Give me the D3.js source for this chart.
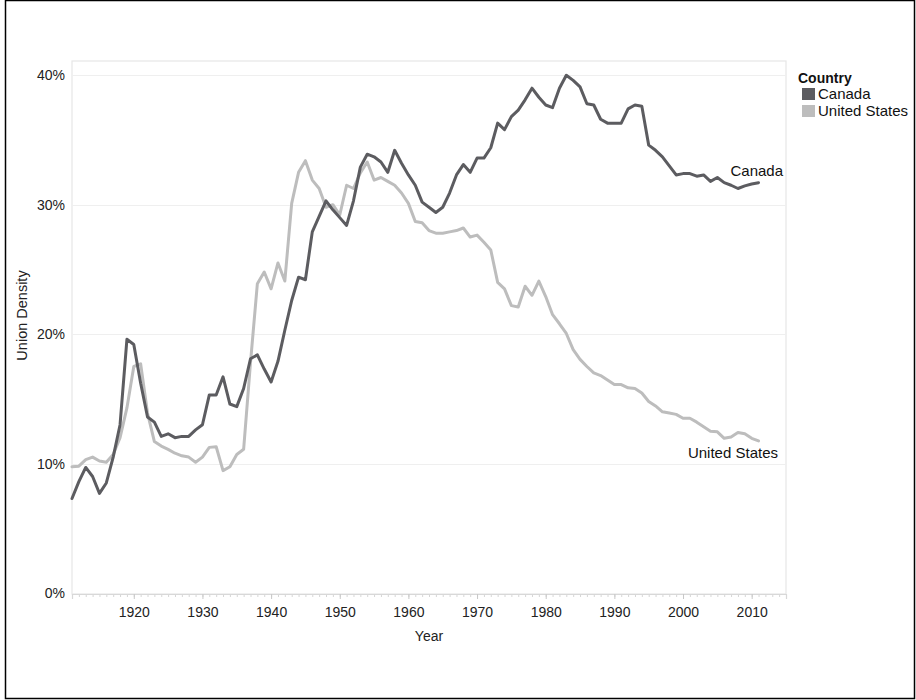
<!DOCTYPE html>
<html>
<head>
<meta charset="utf-8">
<script src="https://cdn.jsdelivr.net/npm/d3@7"></script>
<style>
  body { margin: 0; background: #fff; }
  svg { display: block; font-family: Arial, "Liberation Sans", sans-serif; }
</style>
</head>
<body>
<svg id="chart" width="916" height="700"></svg>
<script>
const years = d3.range(1911, 2012);
const canada = [
  7.3, 8.6, 9.7, 9.0, 7.7, 8.5, 10.5, 13.0, 19.6,
  19.2, 16.2, 13.6, 13.2, 12.1, 12.3, 12.0, 12.1, 12.1, 12.6,
  13.0, 15.3, 15.3, 16.7, 14.6, 14.4, 15.8, 18.1, 18.4, 17.3,
  16.3, 17.9, 20.3, 22.6, 24.4, 24.2, 27.9, 29.1, 30.3, 29.6,
  29.0, 28.4, 30.3, 32.9, 33.9, 33.7, 33.3, 32.5, 34.2, 33.2,
  32.3, 31.5, 30.2, 29.8, 29.4, 29.8, 30.9, 32.3, 33.1, 32.5,
  33.6, 33.6, 34.4, 36.3, 35.8, 36.8, 37.3, 38.1, 39.0, 38.3,
  37.7, 37.5, 39.0, 40.0, 39.6, 39.1, 37.8, 37.7, 36.6, 36.3,
  36.3, 36.3, 37.4, 37.7, 37.6, 34.6, 34.2, 33.7, 33.0, 32.3,
  32.4, 32.4, 32.2, 32.3, 31.8, 32.1, 31.7, 31.5, 31.25, 31.45,
  31.6, 31.7
];
const unitedStates = [
  9.75, 9.8, 10.3, 10.5, 10.2, 10.1, 10.7, 12.0, 14.3,
  17.5, 17.7, 13.9, 11.7, 11.35, 11.1, 10.8, 10.6, 10.5, 10.1,
  10.5, 11.25, 11.3, 9.45, 9.75, 10.7, 11.1, 17.8, 23.9, 24.8,
  23.5, 25.5, 24.1, 30.1, 32.5, 33.4, 31.9, 31.25, 29.8, 30.0,
  29.2, 31.5, 31.25, 32.45, 33.3, 31.9, 32.1, 31.8, 31.5, 30.9,
  30.1, 28.7, 28.6, 28.0, 27.8, 27.8, 27.9, 28.0, 28.2, 27.5,
  27.65, 27.1, 26.5, 24.0, 23.5, 22.2, 22.1, 23.7, 23.0, 24.1,
  22.9, 21.5, 20.8, 20.05, 18.8, 18.05, 17.5, 17.0, 16.8, 16.45,
  16.1, 16.1, 15.85, 15.8, 15.45, 14.8, 14.45, 14.0, 13.9, 13.8,
  13.5, 13.5, 13.2, 12.85, 12.5, 12.45, 11.95, 12.05, 12.4, 12.3,
  11.95, 11.75
];
const countries = ["Canada", "United States"];
const yTicks = [0, 10, 20, 30, 40];
const xTicks = [1920, 1930, 1940, 1950, 1960, 1970, 1980, 1990, 2000, 2010];

const colors = { "Canada": "#5c5c60", "United States": "#bdbdbd" };
const seriesData = { "Canada": canada, "United States": unitedStates };

const svg = d3.select("#chart");
const L = 72, R = 786, T = 61, B = 594;
const FONT = "Arial, 'Liberation Sans', sans-serif";

const x = d3.scaleLinear().domain([1911, 2015]).range([L, R]);
const y = d3.scaleLinear().domain([0, 41.1]).range([593, T]);

// outer frame
svg.append("rect").attr("x", 5.5).attr("y", 0.5).attr("width", 909).attr("height", 698)
  .attr("fill", "none").attr("stroke", "#000").attr("stroke-width", 1.5);

// plot border
svg.append("rect").attr("x", L).attr("y", T).attr("width", R - L).attr("height", B - T)
  .attr("fill", "none").attr("stroke", "#e6e6e6").attr("stroke-width", 1.2);

// gridlines
svg.append("g").selectAll("line").data(yTicks.filter(d => d > 0)).join("line")
  .attr("x1", L).attr("x2", R).attr("y1", d => Math.round(y(d)) + 0.5).attr("y2", d => Math.round(y(d)) + 0.5)
  .attr("stroke", "#efefef").attr("stroke-width", 1);

// y axis labels
const yAxis = d3.axisLeft(y).tickValues(yTicks).tickFormat(d => d + "%").tickSize(0).tickPadding(7);
const gy = svg.append("g").attr("transform", `translate(${L},0)`).call(yAxis);
gy.select(".domain").remove();
gy.selectAll("text").attr("font-size", 14).attr("fill", "#222").attr("font-family", FONT);

// x axis minor ticks
const gMinor = svg.append("g").attr("transform", `translate(0,${B})`)
  .call(d3.axisBottom(x).tickValues(d3.range(1912, 2016)).tickSize(3).tickFormat(""));
gMinor.select(".domain").remove();
gMinor.selectAll("line").attr("stroke", "#d6d6d6");

// x axis major
const xAxis = d3.axisBottom(x).tickValues(xTicks).tickFormat(d3.format("d")).tickSize(5).tickPadding(8);
const gx = svg.append("g").attr("transform", `translate(0,${B})`).call(xAxis);
gx.select(".domain").attr("stroke", "#d8d8d8").attr("stroke-width", 1.2);
gx.selectAll("line").attr("stroke", "#c8c8c8");
gx.selectAll("text").attr("font-size", 14).attr("fill", "#222").attr("font-family", FONT);

// axis titles
svg.append("text").attr("x", (L + R) / 2).attr("y", 641).attr("text-anchor", "middle")
  .attr("font-size", 14).attr("fill", "#222").text("Year");
svg.append("text").attr("transform", `translate(27,${(T + B) / 2 - 12}) rotate(-90)`).attr("text-anchor", "middle")
  .attr("font-size", 14.5).attr("fill", "#222").text("Union Density");

// lines
const line = d3.line().x((d, i) => x(years[i])).y(d => y(d));
const gLines = svg.append("g");
["United States", "Canada"].forEach(c => {
  gLines.append("path").datum(seriesData[c]).attr("d", line)
    .attr("fill", "none").attr("stroke", colors[c]).attr("stroke-width", 3)
    .attr("stroke-linejoin", "round").attr("stroke-linecap", "round");
});

// end labels
const lastIdx = years.length - 1;
svg.append("text").attr("x", 783).attr("y", y(canada[lastIdx]) - 7).attr("text-anchor", "end")
  .attr("font-size", 15).attr("fill", "#111").text("Canada");
svg.append("text").attr("x", 778).attr("y", y(unitedStates[lastIdx]) + 17).attr("text-anchor", "end")
  .attr("font-size", 15).attr("fill", "#111").text("United States");

// legend
const lg = svg.append("g").attr("transform", "translate(798,72)");
lg.append("text").attr("x", 0).attr("y", 11).attr("font-size", 14).attr("font-weight", "bold")
  .attr("fill", "#111").text("Country");
countries.forEach((c, i) => {
  lg.append("rect").attr("x", 4).attr("y", 16 + i * 17).attr("width", 13).attr("height", 12)
    .attr("fill", colors[c]);
  lg.append("text").attr("x", 20).attr("y", 26.5 + i * 17).attr("font-size", 15)
    .attr("fill", "#111").text(c);
});
</script>
</body>
</html>
